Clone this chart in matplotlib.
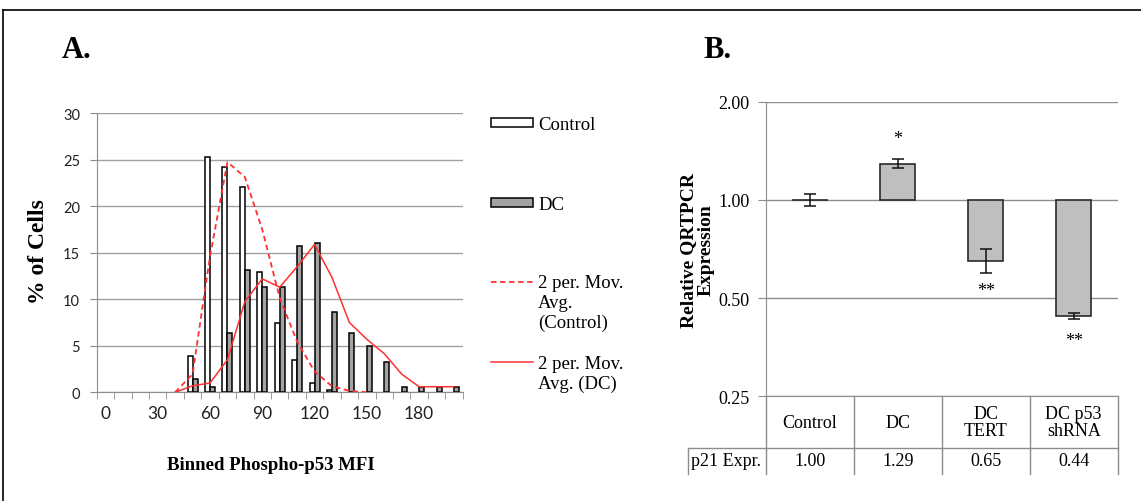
import numpy as np
import pandas as pd
import matplotlib
matplotlib.use("Agg")
import matplotlib.pyplot as plt
import matplotlib.transforms as mtransforms
from matplotlib.lines import Line2D
from matplotlib.patches import Rectangle

# ---------------- data ----------------
# Panel A: percentage of cells per phospho-p53 MFI bin (blank bins are NaN)
mfi_bins = list(range(0, 210, 10))
control_pct = [np.nan, np.nan, np.nan, 0.0, 0.0, 3.9, 25.3, 24.2, 22.1, 12.9, 7.4,
               3.5, 1.0, 0.3, 0.0, 0.0, np.nan, np.nan, np.nan, np.nan, np.nan]
dc_pct = [np.nan, np.nan, np.nan, 0.0, 0.0, 1.4, 0.6, 6.4, 13.1, 11.3, 11.3,
          15.7, 16.1, 8.6, 6.4, 5.0, 3.3, 0.6, 0.6, 0.6, 0.6]
x_label_every = 3

# Panel B: relative p21 QRTPCR expression
groups = ["Control", "DC", "DC\nTERT", "DC p53\nshRNA"]
p21_expr = [1.00, 1.29, 0.65, 0.44]
p21_err = [0.04, 0.04, 0.055, 0.01]
significance = ["", "*", "**", "**"]
mark_offset_pt = [0, 15, -12, -15]

SERIF = ["Liberation Serif", "DejaVu Serif"]
SANS = ["Lato", "DejaVu Sans"]
GRID = "#a0a0a0"
AXIS = "#8c8c8c"

W, H = 1141, 502
fig = plt.figure(figsize=(W / 100, H / 100), dpi=100)


def fx(px):
    return px / W


def fy(py):
    return 1 - py / H


# ---------------- panel A ----------------
axA = fig.add_axes([fx(96.7), fy(393.3), fx(462.7 - 96.7), (393.3 - 114.3) / H])
pos = np.arange(len(mfi_bins))
ctrl = np.array(control_pct, dtype=float)
dc = np.array(dc_pct, dtype=float)
bw = 0.29

mc = np.nan_to_num(ctrl) > 0
md = np.nan_to_num(dc) > 0
axA.bar(pos[mc] - bw / 2, ctrl[mc], width=bw, color="white", edgecolor="black",
        linewidth=1.1, zorder=3)
axA.bar(pos[md] + bw / 2, dc[md], width=bw, color="#a3a3a3", edgecolor="black",
        linewidth=1.1, zorder=3)

ma_ctrl = pd.Series(ctrl).rolling(2).mean().to_numpy()
ma_dc = pd.Series(dc).rolling(2).mean().to_numpy()
axA.plot(pos, ma_ctrl, color="#ff3030", linestyle=(0, (3, 2)), linewidth=1.3, zorder=4)
axA.plot(pos, ma_dc, color="#ff3030", linestyle="-", linewidth=1.1, zorder=4)

axA.set_xlim(-0.5, len(mfi_bins) - 0.5)
axA.set_ylim(0, 30)
axA.set_yticks(np.arange(0, 31, 5))
axA.yaxis.grid(True, color=GRID, linewidth=1.0)
axA.set_axisbelow(True)
lab_pos = pos[::x_label_every]
axA.set_xticks(lab_pos)
axA.set_xticklabels([str(mfi_bins[i]) for i in lab_pos])
axA.set_xticks(np.arange(-0.5, len(mfi_bins), 1.0), minor=True)
axA.tick_params(axis="x", which="major", length=0, pad=9, labelsize=12.5, labelcolor="#222222")
axA.tick_params(axis="x", which="minor", length=5, color=AXIS, direction="out")
axA.tick_params(axis="y", length=5, color=AXIS, pad=7, labelsize=10.5, labelcolor="#222222")
for t in axA.get_xticklabels() + axA.get_yticklabels():
    t.set_family(SANS)
for s in ["top", "right"]:
    axA.spines[s].set_visible(False)
for s in ["left", "bottom"]:
    axA.spines[s].set_color(AXIS)

fig.text(fx(271), fy(466), "Binned Phospho-p53 MFI", family=SERIF, weight="bold",
         fontsize=13.5, ha="center", va="center")
fig.text(fx(38), fy(252), "% of Cells", family=SERIF, weight="bold",
         fontsize=17, rotation=90, ha="center", va="center")
fig.text(fx(62), fy(50), "A.", family=SERIF, weight="bold", fontsize=22,
         ha="left", va="center")

# legend for panel A
leg_x0, leg_x1, txt_x = fx(491), fx(533), fx(538)
fig.patches.append(Rectangle((leg_x0, fy(128)), leg_x1 - leg_x0, 9.5 / H,
                             transform=fig.transFigure, facecolor="white",
                             edgecolor="black", linewidth=1.1))
fig.text(txt_x, fy(125), "Control", family=SERIF, fontsize=13.5, va="center")
fig.patches.append(Rectangle((leg_x0, fy(208)), leg_x1 - leg_x0, 9.5 / H,
                             transform=fig.transFigure, facecolor="#a3a3a3",
                             edgecolor="black", linewidth=1.1))
fig.text(txt_x, fy(205), "DC", family=SERIF, fontsize=13.5, va="center")
fig.lines.append(Line2D([leg_x0, leg_x1], [fy(282.7)] * 2, transform=fig.transFigure,
                        color="#ff3030", linestyle=(0, (3, 2)), linewidth=1.3))
fig.text(txt_x, fy(275), "2 per. Mov.\nAvg.\n(Control)", family=SERIF, fontsize=13.5,
         va="top", linespacing=1.2)
fig.lines.append(Line2D([leg_x0, leg_x1], [fy(363)] * 2, transform=fig.transFigure,
                        color="#ff3030", linestyle="-", linewidth=1.1))
fig.text(txt_x, fy(356), "2 per. Mov.\nAvg. (DC)", family=SERIF, fontsize=13.5,
         va="top", linespacing=1.2)

# ---------------- panel B ----------------
axB = fig.add_axes([fx(766), fy(397.3), fx(1117.7 - 766), (397.3 - 102.7) / H])
gpos = np.arange(len(groups))
vals = np.array(p21_expr)
axB.set_yscale("log", base=2)
axB.bar(gpos, vals - 1.0, bottom=1.0, width=0.4, color="#bfbfbf",
        edgecolor="#2a2a2a", linewidth=1.2, zorder=3)
axB.errorbar(gpos, vals, yerr=p21_err, fmt="none", ecolor="#111111",
             elinewidth=1.1, capsize=4, capthick=1.1, zorder=4)
axB.set_xlim(-0.5, len(groups) - 0.5)
axB.set_ylim(0.25, 2.0)
yt = [0.25, 0.5, 1.0, 2.0]
axB.set_yticks(yt)
axB.set_yticklabels([f"{v:.2f}" for v in yt])
axB.yaxis.set_minor_locator(matplotlib.ticker.NullLocator())
axB.yaxis.grid(True, color=AXIS, linewidth=1.0)
axB.set_axisbelow(True)
axB.set_xticks([])
axB.tick_params(axis="y", length=6, color=AXIS, pad=6, labelsize=13)
for t in axB.get_yticklabels():
    t.set_family(SERIF)
for s in ["top", "right"]:
    axB.spines[s].set_visible(False)
for s in ["left", "bottom"]:
    axB.spines[s].set_color(AXIS)

# significance marks next to the error-bar ends
for i, (v, e, mark, off) in enumerate(zip(vals, p21_err, significance, mark_offset_pt)):
    if not mark:
        continue
    anchor = v + e if v >= 1 else v - e
    axB.annotate(mark, (i, anchor), xytext=(0, off), textcoords="offset points",
                 ha="center", va="center", family=SERIF, fontsize=13)

fig.text(fx(697), fy(250), "Relative QRTPCR\nExpression", family=SERIF, weight="bold",
         fontsize=14, rotation=90, ha="center", va="center", linespacing=1.05)
fig.text(fx(703), fy(50), "B.", family=SERIF, weight="bold", fontsize=22,
         ha="left", va="center")

# data table under panel B
y_top, y_mid, y_bot = fy(397.3), fy(448.7), fy(475)
tr_v = mtransforms.blended_transform_factory(axB.transData, fig.transFigure)
tr_h = mtransforms.blended_transform_factory(axB.transAxes, fig.transFigure)
for xb in np.arange(-0.5, len(groups), 1.0):
    fig.lines.append(Line2D([xb, xb], [y_top, y_bot], transform=tr_v,
                            color=AXIS, linewidth=1.0))
x_row0 = (688 - 766) / (1117.7 - 766)
fig.lines.append(Line2D([x_row0, 1.0], [y_mid, y_mid], transform=tr_h,
                        color=AXIS, linewidth=1.0))
fig.lines.append(Line2D([x_row0, x_row0], [y_mid, y_bot], transform=tr_h,
                        color=AXIS, linewidth=1.0))
for i, (g, v) in enumerate(zip(groups, p21_expr)):
    fig.text(i, fy(423), g, transform=tr_v, ha="center", va="center",
             family=SERIF, fontsize=13, linespacing=1.0)
    fig.text(i, fy(462), f"{v:.2f}", transform=tr_v, ha="center", va="center",
             family=SERIF, fontsize=13)
fig.text(fx(691), fy(462), "p21 Expr.", family=SERIF, fontsize=13,
         ha="left", va="center")

# frame lines around the figure
fig.lines.append(Line2D([fx(3.3), 1.0], [fy(10.7)] * 2, transform=fig.transFigure,
                        color="black", linewidth=1.2))
fig.lines.append(Line2D([fx(3.3)] * 2, [fy(10.7), 0.0], transform=fig.transFigure,
                        color="black", linewidth=1.2))

fig.savefig("out.png", dpi=100)
